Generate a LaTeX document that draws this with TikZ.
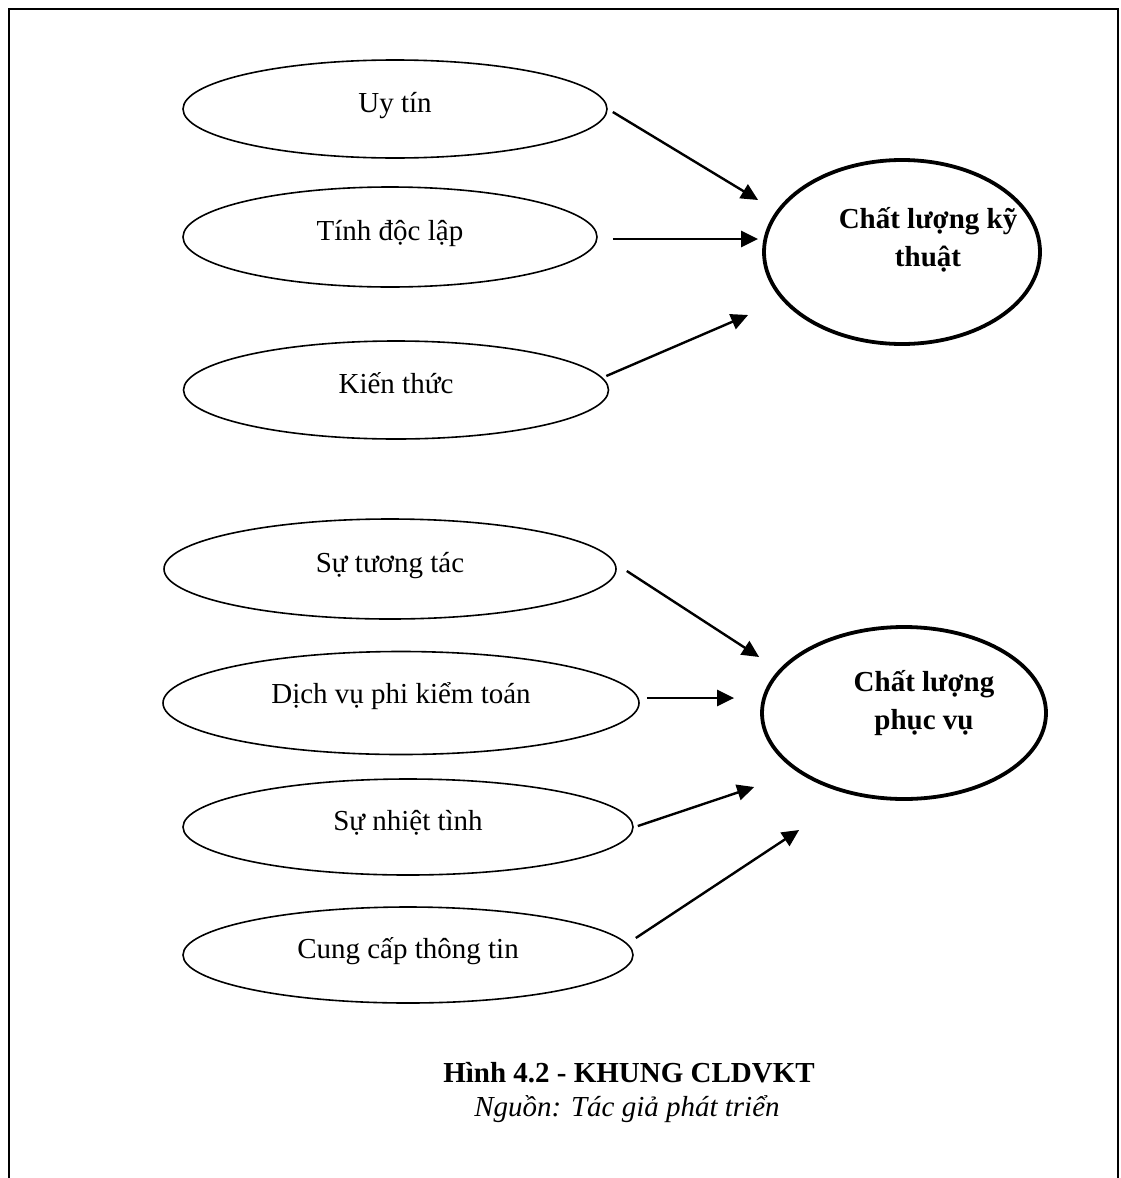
\documentclass[tikz,border=0pt]{standalone}
\usepackage{fontspec}
\setmainfont{Liberation Serif}
\usetikzlibrary{shapes.geometric,arrows.meta,calc}
\begin{document}
\begin{tikzpicture}[x=1pt,y=-1pt,
  factor/.style={ellipse,draw,line width=1.6pt,inner sep=0pt,
    text height=20pt,text depth=14pt,font=\fontsize{29}{34}\selectfont},
  outcome/.style={ellipse,draw,line width=3.8pt,inner sep=0pt},
  outtext/.style={align=center,anchor=base,inner sep=0pt,
    font=\fontsize{29}{38}\selectfont\bfseries},
  link/.style={line width=2.4pt,-{Triangle[length=17pt,width=16pt]}},
  captext/.style={anchor=base,inner sep=0pt,font=\fontsize{29}{34}\selectfont},
]
\useasboundingbox (0,0) rectangle (1120,1178);
\fill[white] (0,0) rectangle (1120,1178);
% frame, open at the bottom
\draw[line width=2.5pt] (9,1178) -- (9,9) -- (1118,9) -- (1118,1178);

% factors of technical quality
\node[factor,minimum width=424pt,minimum height=98pt]  (uytin)    at (395,109) {Uy tín};
\node[factor,minimum width=414pt,minimum height=100pt] (doclap)   at (390,237) {Tính độc lập};
\node[factor,minimum width=425pt,minimum height=98pt]  (kienthuc) at (396,390) {Kiến thức};

% technical quality (label placed by the baseline of its last line)
\node[outcome,minimum width=276pt,minimum height=184pt] (tech) at (902,252) {};
\node[outtext] (techlabel) at (928,266) {Chất lượng kỹ\\thuật};

% factors of service quality
\node[factor,minimum width=452pt,minimum height=100pt] (tuongtac)  at (390,569) {Sự tương tác};
\node[factor,minimum width=476pt,minimum height=103pt,text height=17pt,text depth=17pt]
                                                       (dichvu)    at (401,703) {Dịch vụ phi kiểm toán};
\node[factor,minimum width=450pt,minimum height=96pt]  (nhiettinh) at (408,827) {Sự nhiệt tình};
\node[factor,minimum width=450pt,minimum height=96pt]  (cungcap)   at (408,955) {Cung cấp thông tin};

% service quality
\node[outcome,minimum width=284pt,minimum height=172pt] (service) at (904,713) {};
\node[outtext] (servicelabel) at (924,729) {Chất lượng\\phục vụ};

% links
\draw[link] ($(uytin.east)+(5,3)$)      -- ($(tech.west)+(-4,-52)$);
\draw[link] ($(doclap.east)+(15,2)$)    -- ($(tech.west)+(-4,-13)$);
\draw[link] ($(kienthuc.east)+(-3,-14)$) -- ($(tech.west)+(-14,63)$);

\draw[link] ($(tuongtac.east)+(10,2)$)  -- ($(service.west)+(-1,-56)$);
\draw[link] ($(dichvu.east)+(7,-5)$)    -- ($(service.west)+(-26,-15)$);
\draw[link] ($(nhiettinh.east)+(4,-1)$) -- ($(service.west)+(-6,74)$);
\draw[link] ($(cungcap.east)+(2,-17)$)  -- ($(service.west)+(39,117)$);

% caption
\node[captext,font=\fontsize{29}{34}\selectfont\bfseries] (caption) at (629,1082) {Hình 4.2 - KHUNG CLDVKT};
\node[captext,font=\fontsize{29}{34}\selectfont\itshape]  (source)  at (627,1116) {Nguồn: Tác giả phát triển};
\end{tikzpicture}
\end{document}
